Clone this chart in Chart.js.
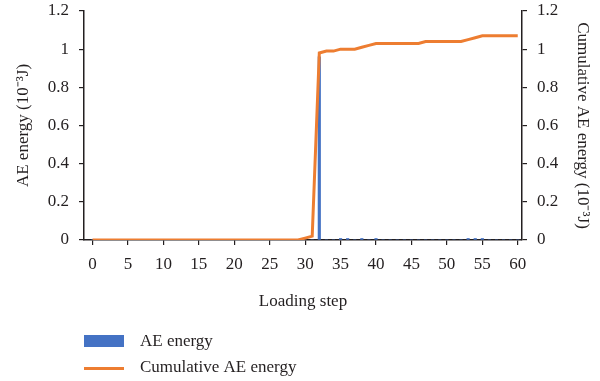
<!DOCTYPE html>
<html>
<head>
<meta charset="utf-8">
<script src="https://cdn.jsdelivr.net/npm/chart.js@4/dist/chart.umd.min.js"></script>
<style>
  html, body { margin: 0; padding: 0; background: #ffffff; }
  #wrap { width: 600px; height: 381px; position: relative; }
</style>
</head>
<body>
<div id="wrap"><canvas id="c" width="600" height="381"></canvas></div>
<script>
// Loading steps 0..60
const steps = [0,1,2,3,4,5,6,7,8,9,10,11,12,13,14,15,16,17,18,19,20,
  21,22,23,24,25,26,27,28,29,30,31,32,33,34,35,36,37,38,39,40,
  41,42,43,44,45,46,47,48,49,50,51,52,53,54,55,56,57,58,59,60];

// AE energy per step (10^-3 J)
const aeEnergy = [0,0,0,0,0,0,0,0,0,0,0,0,0,0,0,0,0,0,0,0,0,
  0,0,0,0,0,0,0,0,0,0,0,0.96,0,0,0.008,0.008,0,0.008,0,0.008,
  0,0,0,0,0,0,0,0,0,0,0,0,0.008,0.008,0.008,0,0,0,0,0];

// Cumulative AE energy (10^-3 J)
const cumulative = [0,0,0,0,0,0,0,0,0,0,0,0,0,0,0,0,0,0,0,0,0,
  0,0,0,0,0,0,0,0,0,0.01,0.02,0.98,0.99,0.99,1.0,1.0,1.0,1.01,1.02,1.03,
  1.03,1.03,1.03,1.03,1.03,1.03,1.04,1.04,1.04,1.04,1.04,1.04,1.05,1.06,1.07,1.07,1.07,1.07,1.07,1.07];

const yTicks = [0, 0.2, 0.4, 0.6, 0.8, 1, 1.2];
const xTickStep = 5;

const seriesNames = ['AE energy', 'Cumulative AE energy'];
const blue = '#4472C4';
const orange = '#ED7D31';
const ink = '#231f20';
const FONT = "'Liberation Serif', 'Times New Roman', serif";

const legendPlugin = {
  id: 'stackLegend',
  afterDraw(chart) {
    const ctx = chart.ctx;
    ctx.save();
    ctx.font = '17px ' + FONT;
    ctx.fillStyle = ink;
    ctx.textBaseline = 'middle';
    ctx.textAlign = 'left';
    const x0 = 84, boxW = 40;
    ctx.fillStyle = chart.data.datasets[0].backgroundColor;
    ctx.fillRect(x0, 335, boxW, 12);
    ctx.fillStyle = ink;
    ctx.fillText(chart.data.datasets[0].label, 140, 342);
    ctx.strokeStyle = chart.data.datasets[1].borderColor;
    ctx.lineWidth = 3;
    ctx.beginPath();
    ctx.moveTo(x0, 368.5);
    ctx.lineTo(x0 + boxW, 368.5);
    ctx.stroke();
    ctx.fillText(chart.data.datasets[1].label, 140, 368);
    ctx.restore();
  }
};

function fixVertical(width) {
  return function (s) {
    s.width = width;
    s.paddingTop = 0;
    s.paddingBottom = 0;
  };
}

new Chart(document.getElementById('c'), {
  data: {
    datasets: [
      {
        type: 'bar',
        label: seriesNames[0],
        data: steps.map((s, i) => ({ x: s, y: aeEnergy[i] })),
        backgroundColor: blue,
        borderWidth: 0,
        barThickness: 2.5,
        yAxisID: 'y',
        order: 2
      },
      {
        type: 'line',
        label: seriesNames[1],
        data: steps.map((s, i) => ({ x: s, y: cumulative[i] })),
        borderColor: orange,
        backgroundColor: orange,
        borderWidth: 3,
        pointRadius: 0,
        tension: 0,
        yAxisID: 'y1',
        order: 1
      }
    ]
  },
  options: {
    responsive: false,
    animation: false,
    devicePixelRatio: 1,
    layout: { padding: { left: 0, right: 0, top: 11, bottom: 61 } },
    plugins: {
      legend: { display: false },
      tooltip: { enabled: false }
    },
    scales: {
      x: {
        type: 'linear',
        offset: false,
        min: -1.2,
        max: 60.6,
        afterFit(s) { s.height = 80; s.paddingLeft = 0; s.paddingRight = 0; },
        ticks: {
          stepSize: xTickStep,
          includeBounds: false,
          color: ink,
          font: { family: FONT, size: 17 },
          padding: 9,
          maxRotation: 0
        },
        grid: { offset: false, drawOnChartArea: false, drawTicks: true, tickLength: 5, color: ink, lineWidth: 1.2 },
        border: { display: true, color: ink, width: 1.5 },
        title: { display: true, text: 'Loading step', color: ink, font: { family: FONT, size: 17 }, padding: { top: 8, bottom: 8 } }
      },
      y: {
        type: 'linear',
        position: 'left',
        min: 0,
        max: 1.2,
        afterFit: fixVertical(84),
        afterBuildTicks(s) { s.ticks = yTicks.map(v => ({ value: v })); },
        ticks: {
          color: ink,
          font: { family: FONT, size: 17 },
          padding: 10,
          callback: v => String(+v.toFixed(1))
        },
        grid: { drawOnChartArea: false, drawTicks: true, tickLength: 5, color: ink, lineWidth: 1.2 },
        border: { display: true, color: ink, width: 1.5 },
        title: { display: true, text: 'AE energy (10⁻³J)', color: ink, font: { family: FONT, size: 17 }, padding: { top: 13, bottom: 0 } }
      },
      y1: {
        type: 'linear',
        position: 'right',
        min: 0,
        max: 1.2,
        afterFit: fixVertical(78),
        afterBuildTicks(s) { s.ticks = yTicks.map(v => ({ value: v })); },
        ticks: {
          color: ink,
          font: { family: FONT, size: 17 },
          padding: 10,
          callback: v => String(+v.toFixed(1))
        },
        grid: { drawOnChartArea: false, drawTicks: true, tickLength: 5, color: ink, lineWidth: 1.2 },
        border: { display: true, color: ink, width: 1.5 },
        title: { display: true, text: 'Cumulative AE energy (10⁻³J)', color: ink, font: { family: FONT, size: 17 }, padding: { top: 7, bottom: 0 } }
      }
    }
  },
  plugins: [legendPlugin]
});
</script>
</body>
</html>
